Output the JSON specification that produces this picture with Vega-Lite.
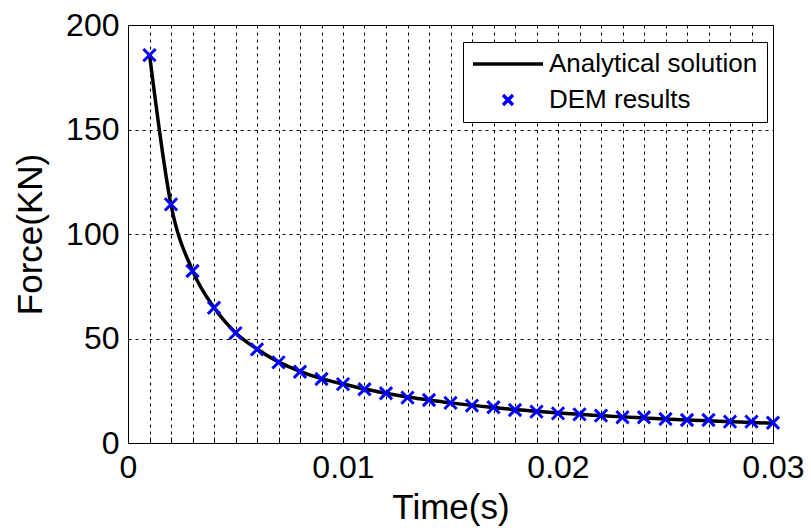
{
  "$schema": "https://vega.github.io/schema/vega-lite/v6.json",
  "width": 645,
  "height": 418,
  "autosize": {"type": "none"},
  "padding": {"left": 128, "top": 25, "right": 38, "bottom": 85},
  "background": "white",
  "config": {
    "view": {"stroke": "black", "strokeWidth": 1},
    "font": "Liberation Sans",
    "axis": {
      "labelFont": "Liberation Sans",
      "titleFont": "Liberation Sans",
      "labelFontSize": 32,
      "titleFontSize": 35,
      "titleFontWeight": "normal",
      "labelColor": "black",
      "titleColor": "black",
      "domainColor": "black",
      "tickColor": "black",
      "gridColor": "black",
      "gridOpacity": 1,
      "gridDash": [3, 4],
      "gridWidth": 1,
      "labelOverlap": false,
      "labelFlush": false
    }
  },
  "data": {
    "values": [
      {"t": 0.001, "F": 186, "series": "Analytical solution"},
      {"t": 0.002, "F": 114, "series": "Analytical solution"},
      {"t": 0.003, "F": 82.5, "series": "Analytical solution"},
      {"t": 0.004, "F": 64.8, "series": "Analytical solution"},
      {"t": 0.005, "F": 52.8, "series": "Analytical solution"},
      {"t": 0.006, "F": 45, "series": "Analytical solution"},
      {"t": 0.007, "F": 38.8, "series": "Analytical solution"},
      {"t": 0.008, "F": 34.3, "series": "Analytical solution"},
      {"t": 0.009, "F": 30.8, "series": "Analytical solution"},
      {"t": 0.01, "F": 28.2, "series": "Analytical solution"},
      {"t": 0.011, "F": 25.8, "series": "Analytical solution"},
      {"t": 0.012, "F": 23.8, "series": "Analytical solution"},
      {"t": 0.013, "F": 22.0, "series": "Analytical solution"},
      {"t": 0.014, "F": 20.6, "series": "Analytical solution"},
      {"t": 0.015, "F": 19.2, "series": "Analytical solution"},
      {"t": 0.016, "F": 18.0, "series": "Analytical solution"},
      {"t": 0.017, "F": 17.0, "series": "Analytical solution"},
      {"t": 0.018, "F": 16.0, "series": "Analytical solution"},
      {"t": 0.019, "F": 15.2, "series": "Analytical solution"},
      {"t": 0.02, "F": 14.4, "series": "Analytical solution"},
      {"t": 0.021, "F": 13.7, "series": "Analytical solution"},
      {"t": 0.022, "F": 13.1, "series": "Analytical solution"},
      {"t": 0.023, "F": 12.5, "series": "Analytical solution"},
      {"t": 0.024, "F": 12.0, "series": "Analytical solution"},
      {"t": 0.025, "F": 11.5, "series": "Analytical solution"},
      {"t": 0.026, "F": 11.0, "series": "Analytical solution"},
      {"t": 0.027, "F": 10.6, "series": "Analytical solution"},
      {"t": 0.028, "F": 10.2, "series": "Analytical solution"},
      {"t": 0.029, "F": 9.8, "series": "Analytical solution"},
      {"t": 0.03, "F": 9.5, "series": "Analytical solution"},
      {"t": 0.001, "F": 185.6, "series": "DEM results"},
      {"t": 0.002, "F": 114.2, "series": "DEM results"},
      {"t": 0.003, "F": 82.3, "series": "DEM results"},
      {"t": 0.004, "F": 64.7, "series": "DEM results"},
      {"t": 0.005, "F": 52.6, "series": "DEM results"},
      {"t": 0.006, "F": 44.8, "series": "DEM results"},
      {"t": 0.007, "F": 38.6, "series": "DEM results"},
      {"t": 0.008, "F": 34.1, "series": "DEM results"},
      {"t": 0.009, "F": 30.6, "series": "DEM results"},
      {"t": 0.01, "F": 28.2, "series": "DEM results"},
      {"t": 0.011, "F": 25.7, "series": "DEM results"},
      {"t": 0.012, "F": 23.8, "series": "DEM results"},
      {"t": 0.013, "F": 21.7, "series": "DEM results"},
      {"t": 0.014, "F": 20.6, "series": "DEM results"},
      {"t": 0.015, "F": 19.2, "series": "DEM results"},
      {"t": 0.016, "F": 17.9, "series": "DEM results"},
      {"t": 0.017, "F": 17.1, "series": "DEM results"},
      {"t": 0.018, "F": 15.8, "series": "DEM results"},
      {"t": 0.019, "F": 15.0, "series": "DEM results"},
      {"t": 0.02, "F": 14.2, "series": "DEM results"},
      {"t": 0.021, "F": 13.7, "series": "DEM results"},
      {"t": 0.022, "F": 13.1, "series": "DEM results"},
      {"t": 0.023, "F": 12.3, "series": "DEM results"},
      {"t": 0.024, "F": 12.3, "series": "DEM results"},
      {"t": 0.025, "F": 11.5, "series": "DEM results"},
      {"t": 0.026, "F": 11.0, "series": "DEM results"},
      {"t": 0.027, "F": 11.0, "series": "DEM results"},
      {"t": 0.028, "F": 10.2, "series": "DEM results"},
      {"t": 0.029, "F": 10.2, "series": "DEM results"},
      {"t": 0.03, "F": 9.7, "series": "DEM results"}
    ]
  },
  "encoding": {
    "x": {
      "field": "t",
      "type": "quantitative",
      "scale": {"domain": [0, 0.03], "nice": false, "zero": false},
      "axis": {
        "title": "Time(s)",
        "values": [0, 0.001, 0.002, 0.003, 0.004, 0.005, 0.006, 0.007, 0.008, 0.009, 0.01, 0.011, 0.012, 0.013, 0.014, 0.015, 0.016, 0.017, 0.018, 0.019, 0.02, 0.021, 0.022, 0.023, 0.024, 0.025, 0.026, 0.027, 0.028, 0.029, 0.03],
        "labelExpr": "datum.value == 0 ? '0' : (abs(datum.value * 100 - round(datum.value * 100)) < 0.000001 ? format(datum.value, '.2f') : '')",
        "grid": true,
        "ticks": true,
        "tickSize": -6,
        "labelPadding": 15,
        "titlePadding": 7
      }
    },
    "y": {
      "field": "F",
      "type": "quantitative",
      "scale": {"domain": [0, 200], "nice": false},
      "axis": {
        "title": "Force(KN)",
        "values": [0, 50, 100, 150, 200],
        "grid": true,
        "ticks": false,
        "labelPadding": 9,
        "titlePadding": 17
      }
    }
  },
  "layer": [
    {
      "transform": [{"filter": "datum.series == 'Analytical solution'"}],
      "mark": {"type": "line", "color": "black", "strokeWidth": 3.5, "interpolate": "monotone"}
    },
    {
      "transform": [{"filter": "datum.series == 'DEM results'"}],
      "mark": {"type": "point", "filled": false, "strokeWidth": 3, "opacity": 1, "size": 150},
      "encoding": {
        "color": {
          "field": "series",
          "type": "nominal",
          "scale": {"domain": ["Analytical solution", "DEM results"], "range": ["black", "#0000ff"]},
          "legend": {
            "title": null,
            "orient": "none",
            "legendX": 335,
            "legendY": 17,
            "strokeColor": "black",
            "fillColor": "white",
            "padding": 9,
            "labelFont": "Liberation Sans",
            "labelFontSize": 26,
            "labelColor": "black",
            "labelLimit": 500,
            "labelOffset": 28,
            "symbolOffset": 23,
            "rowPadding": 10,
            "symbolStrokeWidth": 3.5
          }
        },
        "shape": {
          "field": "series",
          "type": "nominal",
          "scale": {"domain": ["Analytical solution", "DEM results"], "range": ["M-7,0L7,0", "M-1,-1L1,1M-1,1L1,-1"]},
          "legend": {
            "title": null,
            "orient": "none",
            "legendX": 335,
            "legendY": 17
          }
        }
      }
    }
  ]
}
